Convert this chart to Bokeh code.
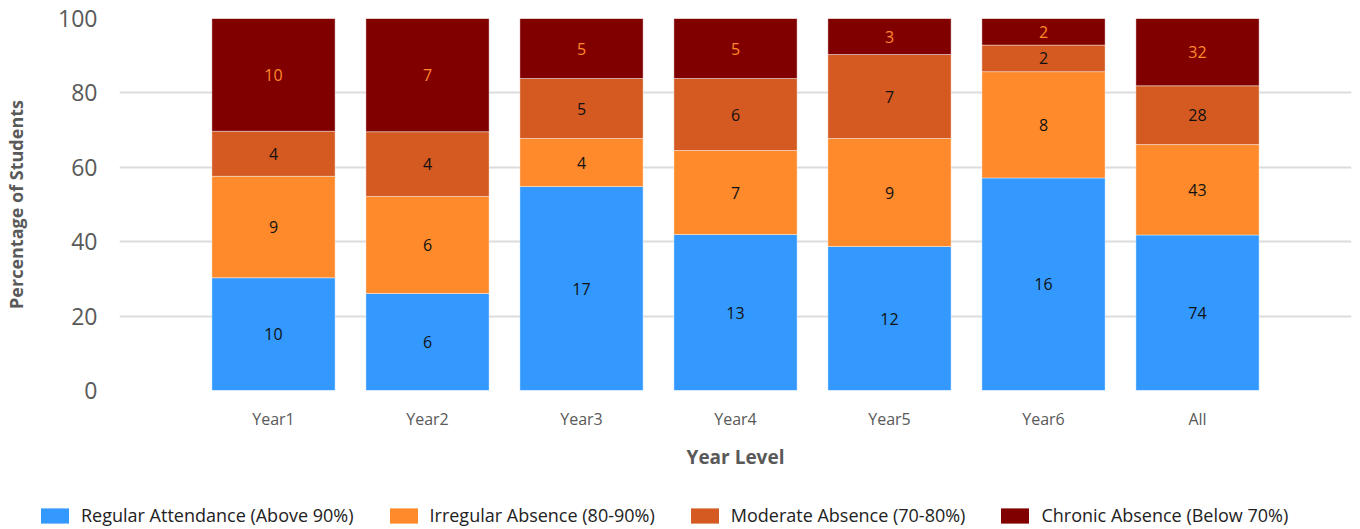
from bokeh.plotting import figure
from bokeh.models import ColumnDataSource, FactorRange, Legend, LegendItem, FixedTicker
from bokeh.embed import file_html
from bokeh.resources import INLINE
from bokeh.core.properties import value

years = ["Year1", "Year2", "Year3", "Year4", "Year5", "Year6", "All"]
regular = [10, 6, 17, 13, 12, 16, 74]
irregular = [9, 6, 4, 7, 9, 8, 43]
moderate = [4, 4, 5, 6, 7, 2, 28]
chronic = [10, 7, 5, 5, 3, 2, 32]
series_names = ["Regular Attendance (Above 90%)", "Irregular Absence (80-90%)",
                "Moderate Absence (70-80%)", "Chronic Absence (Below 70%)"]
colors = ["#3399FF", "#FF8A2B", "#D45A22", "#800000"]
label_colors = ["#111111", "#111111", "#111111", "#FF8A2B"]
y_ticks = [0, 20, 40, 60, 80, 100]

FONT = "Open Sans"
series = [regular, irregular, moderate, chronic]
totals = [sum(v) for v in zip(*series)]

p = figure(x_range=FactorRange(factors=years, range_padding=0.5, range_padding_units="absolute"),
           y_range=(0, 100), width=1360, height=490,
           min_border_left=119, min_border_right=9, min_border_top=18, min_border_bottom=100,
           output_backend="svg", toolbar_location=None, outline_line_color=None)

bottoms = [0.0] * len(years)
for name, vals, col, lcol in zip(series_names, series, colors, label_colors):
    pct = [v / t * 100 for v, t in zip(vals, totals)]
    tops = [b + q for b, q in zip(bottoms, pct)]
    mids = [(b + t) / 2 for b, t in zip(bottoms, tops)]
    src = ColumnDataSource(dict(x=years, bottom=bottoms, top=tops, mid=mids,
                                lbl=[str(v) for v in vals]))
    p.vbar(x="x", bottom="bottom", top="top", width=0.8, source=src,
           fill_color=col, line_color="white", line_alpha=0.4, line_width=1)
    p.text(x="x", y="mid", text="lbl", source=src, text_align="center",
           text_baseline="middle", text_font=value(FONT), text_font_size="16px",
           text_color=lcol)
    bottoms = tops

p.xgrid.grid_line_color = None
p.ygrid.grid_line_color = "#dcdcdc"
p.ygrid.grid_line_width = 2
p.yaxis.ticker = FixedTicker(ticks=y_ticks)

for ax in (p.xaxis[0], p.yaxis[0]):
    ax.axis_line_color = None
    ax.major_tick_line_color = None
    ax.minor_tick_line_color = None
    ax.major_tick_out = 0
    ax.major_tick_in = 0
    ax.minor_tick_out = 0
    ax.major_label_text_font = FONT
    ax.axis_label_text_font = FONT
    ax.major_label_text_color = "#595959"
    ax.axis_label_text_color = "#595959"
    ax.axis_label_text_font_style = "bold"

p.yaxis.major_label_text_font_size = "23px"
p.yaxis.major_label_standoff = 22
p.yaxis.axis_label = "Percentage of Students"
p.yaxis.axis_label_text_font_size = "18px"
p.yaxis.axis_label_standoff = 27

p.xaxis.major_label_text_font_size = "16px"
p.xaxis.major_label_standoff = 17
p.xaxis.axis_label = "Year Level"
p.xaxis.axis_label_text_font_size = "19px"
p.xaxis.axis_label_standoff = 11

# legend strip (swatch renderers sit outside the strip's visible range)
lg = figure(width=1360, height=39, x_range=(0, 1), y_range=(0, 1),
            x_axis_location=None, y_axis_location=None,
            min_border=0, output_backend="svg", toolbar_location=None,
            outline_line_color=None)
lg.grid.visible = False
items = []
for name, col in zip(series_names, colors):
    r = lg.vbar(x=[-5], bottom=[-5], top=[-4], width=0.1, fill_color=col, line_color=None)
    items.append(LegendItem(label=name, renderers=[r]))
legend = Legend(items=items, orientation="horizontal", location=(37, 2),
                glyph_width=35, glyph_height=19, label_standoff=9, spacing=32,
                padding=2, margin=0, border_line_color=None, background_fill_alpha=0,
                label_text_font=FONT, label_text_font_size="18px",
                label_text_color="#222222")
lg.add_layout(legend, "center")

open("out.html", "w").write(file_html([p, lg], INLINE))
